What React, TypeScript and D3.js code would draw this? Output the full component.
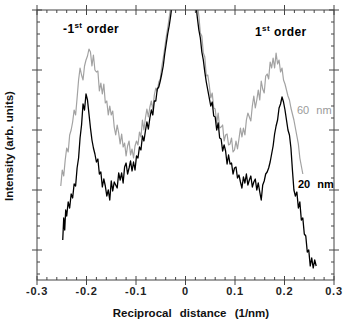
import * as d3 from "d3";

// reciprocal distance (1/nm) vs intensity (arb. units)
const X_TICKS = [-0.3, -0.2, -0.1, 0, 0.1, 0.2, 0.3];
const X_TICK_LABELS = ["-0.3", "-0.2", "-0.1", "0", "0.1", "0.2", "0.3"];
const Y_MAJOR_TICKS = [30, 90, 150, 210, 270];

const SERIES_60NM: [number, number][] = [
  [-0.252, 94], [-0.249, 110], [-0.246, 104], [-0.243, 120], [-0.24, 132], [-0.237, 128],
  [-0.234, 145], [-0.231, 150], [-0.228, 158], [-0.225, 170], [-0.222, 165], [-0.219, 182],
  [-0.216, 200], [-0.213, 212], [-0.21, 205], [-0.207, 200], [-0.204, 214], [-0.201, 220],
  [-0.198, 224], [-0.195, 231], [-0.192, 228], [-0.189, 214], [-0.186, 225], [-0.183, 210],
  [-0.18, 208], [-0.177, 209], [-0.174, 189], [-0.171, 197], [-0.168, 186], [-0.165, 196],
  [-0.162, 177], [-0.159, 179], [-0.156, 165], [-0.153, 174], [-0.15, 165], [-0.147, 169],
  [-0.144, 153], [-0.141, 145], [-0.138, 155], [-0.135, 147], [-0.132, 136], [-0.129, 146],
  [-0.126, 133], [-0.123, 137], [-0.12, 124], [-0.117, 134], [-0.114, 139], [-0.111, 125],
  [-0.108, 131], [-0.105, 122], [-0.102, 134], [-0.099, 139], [-0.096, 135], [-0.093, 148],
  [-0.09, 143], [-0.087, 160], [-0.084, 150], [-0.081, 162], [-0.078, 171], [-0.075, 163],
  [-0.072, 173], [-0.069, 179], [-0.066, 170], [-0.063, 185], [-0.06, 192], [-0.057, 189],
  [-0.054, 198], [-0.051, 201], [-0.048, 213], [-0.045, 222], [-0.042, 232], [-0.039, 243],
  [-0.036, 252], [-0.033, 262], [-0.03, 272], [-0.025, 290], [-0.015, 320], [-0.005, 345],
  [0, 350], [0.005, 345], [0.015, 320], [0.021, 292], [0.024, 276], [0.027, 264],
  [0.03, 247], [0.033, 244], [0.036, 227], [0.039, 223], [0.042, 204], [0.045, 205],
  [0.048, 195], [0.051, 182], [0.054, 187], [0.057, 172], [0.06, 171], [0.063, 157],
  [0.066, 167], [0.069, 152], [0.072, 153], [0.075, 155], [0.078, 139], [0.081, 145],
  [0.084, 146], [0.087, 135], [0.09, 136], [0.093, 142], [0.096, 128], [0.099, 130],
  [0.102, 139], [0.105, 131], [0.108, 141], [0.111, 152], [0.114, 143], [0.117, 152],
  [0.12, 145], [0.123, 160], [0.126, 167], [0.129, 163], [0.132, 159], [0.135, 174],
  [0.138, 184], [0.141, 172], [0.144, 180], [0.147, 190], [0.15, 180], [0.153, 199],
  [0.156, 191], [0.159, 187], [0.162, 204], [0.165, 206], [0.168, 201], [0.171, 218],
  [0.174, 212], [0.177, 222], [0.18, 212], [0.183, 227], [0.186, 216], [0.189, 220],
  [0.192, 208], [0.195, 212], [0.198, 200], [0.201, 196], [0.204, 190], [0.207, 184],
  [0.21, 180], [0.213, 172], [0.216, 166], [0.219, 160], [0.222, 152], [0.225, 144],
  [0.228, 136], [0.231, 122], [0.234, 114], [0.237, 106],
];

const SERIES_20NM: [number, number][] = [
  [-0.248, 40], [-0.246, 62], [-0.244, 50], [-0.242, 70], [-0.24, 64], [-0.237, 78],
  [-0.234, 72], [-0.231, 86], [-0.228, 82], [-0.225, 96], [-0.222, 94], [-0.219, 112],
  [-0.216, 122], [-0.213, 142], [-0.21, 155], [-0.207, 176], [-0.204, 170], [-0.201, 186],
  [-0.198, 180], [-0.195, 166], [-0.192, 152], [-0.189, 140], [-0.186, 132], [-0.183, 126],
  [-0.18, 118], [-0.177, 121], [-0.174, 106], [-0.171, 108], [-0.168, 93], [-0.165, 101],
  [-0.162, 94], [-0.159, 84], [-0.156, 90], [-0.153, 80], [-0.15, 99], [-0.147, 89],
  [-0.144, 98], [-0.141, 95], [-0.138, 92], [-0.135, 107], [-0.132, 100], [-0.129, 107],
  [-0.126, 97], [-0.123, 113], [-0.12, 117], [-0.117, 106], [-0.114, 112], [-0.111, 119],
  [-0.108, 109], [-0.105, 118], [-0.102, 110], [-0.099, 124], [-0.096, 122], [-0.093, 133],
  [-0.09, 130], [-0.087, 144], [-0.084, 139], [-0.081, 149], [-0.078, 158], [-0.075, 151],
  [-0.072, 162], [-0.069, 170], [-0.066, 165], [-0.063, 179], [-0.06, 179], [-0.057, 191],
  [-0.054, 193], [-0.051, 199], [-0.048, 206], [-0.045, 214], [-0.042, 226], [-0.039, 236],
  [-0.036, 246], [-0.033, 254], [-0.03, 264], [-0.027, 276], [-0.02, 300], [-0.01, 330],
  [0, 350], [0.01, 330], [0.018, 290], [0.021, 276], [0.024, 262], [0.027, 250],
  [0.03, 242], [0.033, 228], [0.036, 220], [0.039, 208], [0.042, 198], [0.045, 190],
  [0.048, 182], [0.051, 174], [0.054, 178], [0.057, 164], [0.06, 163], [0.063, 150],
  [0.066, 157], [0.069, 142], [0.072, 141], [0.075, 129], [0.078, 135], [0.081, 129],
  [0.084, 116], [0.087, 125], [0.09, 116], [0.093, 117], [0.096, 106], [0.099, 112],
  [0.102, 113], [0.105, 102], [0.108, 105], [0.111, 98], [0.114, 92], [0.117, 103],
  [0.12, 97], [0.123, 106], [0.126, 95], [0.129, 100], [0.132, 104], [0.135, 93],
  [0.138, 98], [0.141, 101], [0.144, 90], [0.147, 97], [0.15, 88], [0.153, 80],
  [0.156, 95], [0.159, 99], [0.162, 106], [0.165, 108], [0.168, 112], [0.171, 118],
  [0.174, 126], [0.177, 134], [0.18, 146], [0.183, 154], [0.186, 160], [0.189, 172],
  [0.192, 176], [0.195, 183], [0.198, 178], [0.201, 170], [0.204, 160], [0.207, 150],
  [0.21, 145], [0.213, 132], [0.216, 110], [0.219, 90], [0.222, 84], [0.225, 88],
  [0.228, 72], [0.231, 78], [0.234, 60], [0.237, 62], [0.24, 46], [0.243, 44],
  [0.246, 28], [0.249, 30], [0.252, 14], [0.255, 22], [0.258, 12], [0.261, 20],
  [0.264, 14],
];

const W = 346;
const H = 322;
const margin = { top: 10, right: 12, bottom: 42, left: 37 };
const FONT = "'Liberation Sans', Arial, Helvetica, sans-serif";
const AXIS = "#444";

export default function App() {
  const x = d3.scaleLinear().domain([-0.3, 0.3]).range([margin.left, W - margin.right]);
  const y = d3.scaleLinear().domain([0, 270]).range([H - margin.bottom, margin.top]);
  const [x0, x1] = x.range();
  const [yb, yt] = y.range();

  const line = d3.line<[number, number]>()
    .x((d) => x(d[0]))
    .y((d) => y(d[1]));

  const xMinor = d3.range(-0.3, 0.3001, 0.02).filter((v) => Math.abs(Math.round(v * 10) - v * 10) > 0.01);
  const yMinor = d3.range(6, 271, 12).filter((v) => !Y_MAJOR_TICKS.includes(v));

  return (
    <svg width={W} height={H} style={{ position: "absolute", left: 0, top: 0, background: "#fff" }}
      fontFamily={FONT}>
      <defs>
        <clipPath id="plot">
          <rect x={x0} y={yt} width={x1 - x0} height={yb - yt} />
        </clipPath>
      </defs>

      <g clipPath="url(#plot)" fill="none" strokeLinejoin="round">
        <path d={line(SERIES_60NM) ?? ""} stroke="#a2a2a2" strokeWidth={1.2} />
        <path d={line(SERIES_20NM) ?? ""} stroke="#000" strokeWidth={1.3} />
      </g>

      {/* frame */}
      <rect x={x0} y={yt} width={x1 - x0} height={yb - yt} fill="none" stroke={AXIS} strokeWidth={1} />

      {/* ticks on all four sides */}
      <g stroke={AXIS} strokeWidth={1}>
        {X_TICKS.map((t) => (
          <g key={"xm" + t}>
            <line x1={x(t)} x2={x(t)} y1={yb - 4} y2={yb + 5} />
            <line x1={x(t)} x2={x(t)} y1={yt - 5} y2={yt + 5} />
          </g>
        ))}
        {xMinor.map((t) => (
          <g key={"xn" + t}>
            <line x1={x(t)} x2={x(t)} y1={yb - 3} y2={yb} />
            <line x1={x(t)} x2={x(t)} y1={yt} y2={yt + 3} />
          </g>
        ))}
        {Y_MAJOR_TICKS.map((t) => (
          <g key={"ym" + t}>
            <line x1={x0 - 5} x2={x0 + 5} y1={y(t)} y2={y(t)} />
            <line x1={x1 - 5} x2={x1 + 5} y1={y(t)} y2={y(t)} />
          </g>
        ))}
        {yMinor.map((t) => (
          <g key={"yn" + t}>
            <line x1={x0} x2={x0 + 3} y1={y(t)} y2={y(t)} />
            <line x1={x1 - 3} x2={x1} y1={y(t)} y2={y(t)} />
          </g>
        ))}
      </g>

      {/* tick labels */}
      <g fontSize={11} fontWeight="bold" fill="#222" textAnchor="middle" letterSpacing={0.8}>
        {X_TICKS.map((t, i) => (
          <text key={"xl" + t} x={x(t)} y={yb + 15}>{X_TICK_LABELS[i]}</text>
        ))}
      </g>

      {/* axis titles */}
      <text x={191} y={317} textAnchor="middle" fontSize={11.5} fontWeight="bold" fill="#111"
        wordSpacing={5}>Reciprocal distance (1/nm)</text>
      <text transform="translate(13,146) rotate(-90)" textAnchor="middle" fontSize={11.5}
        fontWeight="bold" fill="#111">Intensity (arb. units)</text>

      {/* annotations */}
      <text x={63} y={33} fontSize={12} fontWeight="bold" fill="#000" letterSpacing={0.4}>
        -1<tspan fontSize={8} dy={-5}>st</tspan><tspan dy={5} dx={4}>order</tspan>
      </text>
      <text x={255} y={36} fontSize={12} fontWeight="bold" fill="#000" letterSpacing={0.4}>
        1<tspan fontSize={8} dy={-5}>st</tspan><tspan dy={5} dx={4}>order</tspan>
      </text>
      <text x={297} y={114} fontSize={11} fill="#9a9a9a" wordSpacing={4}>60 nm</text>
      <text x={298} y={188} fontSize={11} fontWeight="bold" fill="#000" wordSpacing={4}>20 nm</text>
    </svg>
  );
}
